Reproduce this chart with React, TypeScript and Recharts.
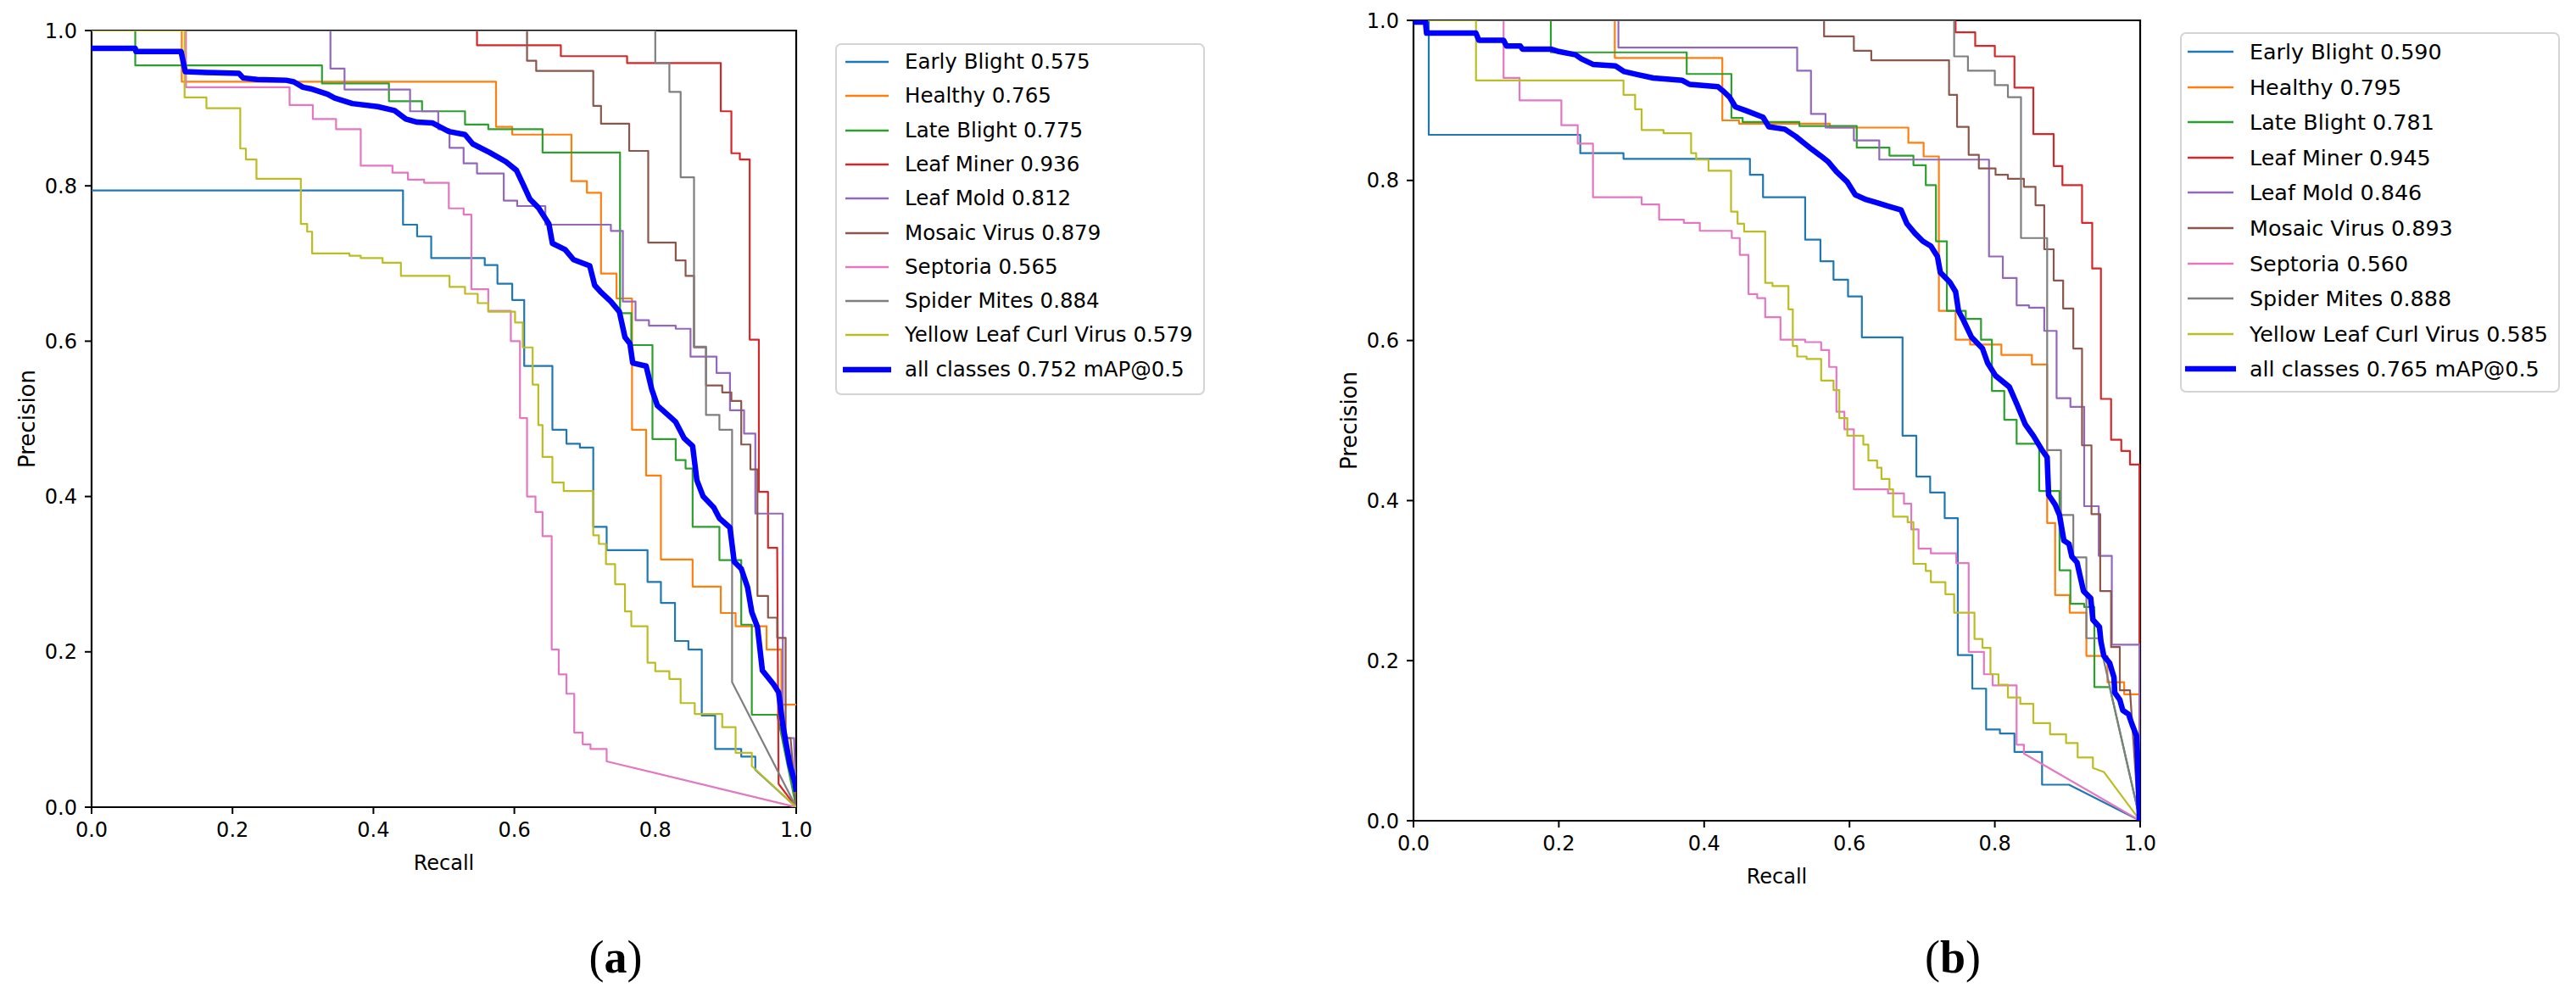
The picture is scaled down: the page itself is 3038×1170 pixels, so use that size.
import React from 'react';
import { LineChart, Line, XAxis, YAxis, ReferenceArea, Label } from 'recharts';

type Step = [number, number];

// ---------- labels / ticks ----------
const classNames = ['Early Blight', 'Healthy', 'Late Blight', 'Leaf Miner', 'Leaf Mold', 'Mosaic Virus', 'Septoria', 'Spider Mites', 'Yellow Leaf Curl Virus'];
const classColors = ['#1f77b4', '#ff7f0e', '#2ca02c', '#d62728', '#9467bd', '#8c564b', '#e377c2', '#7f7f7f', '#bcbd22'];
const allColor = '#0000ff';
const apA = [0.575, 0.765, 0.775, 0.936, 0.812, 0.879, 0.565, 0.884, 0.579];
const apB = [0.590, 0.795, 0.781, 0.945, 0.846, 0.893, 0.560, 0.888, 0.585];
const mapA = 0.752;
const mapB = 0.765;
const axisTicks = [0, 0.2, 0.4, 0.6, 0.8, 1.0];

// ---------- panel (a) : step curves [recall where level starts, precision] ----------
const earlyBlightA: Step[] = [[0, 0.794], [0.442, 0.75], [0.462, 0.735], [0.482, 0.707], [0.558, 0.698], [0.576, 0.674], [0.597, 0.653], [0.614, 0.568], [0.654, 0.486], [0.674, 0.468], [0.693, 0.463], [0.712, 0.361], [0.731, 0.331], [0.789, 0.29], [0.808, 0.263], [0.828, 0.214], [0.847, 0.203], [0.866, 0.118], [0.885, 0.075], [0.922, 0.065], [0.942, 0.048]];
const earlyBlightATail: Step[] = [[1, 0]];
const healthyA: Step[] = [[0, 1], [0.128, 0.934], [0.574, 0.876], [0.597, 0.866], [0.681, 0.806], [0.703, 0.791], [0.723, 0.687], [0.745, 0.655], [0.767, 0.486], [0.787, 0.427], [0.808, 0.319], [0.853, 0.284], [0.893, 0.25], [0.914, 0.233], [0.958, 0.203], [0.979, 0.132]];
const healthyATail: Step[] = [[1, 0.132]];
const lateBlightA: Step[] = [[0, 1], [0.062, 0.955], [0.327, 0.932], [0.422, 0.909], [0.469, 0.896], [0.53, 0.879], [0.563, 0.873], [0.64, 0.843], [0.75, 0.636], [0.766, 0.595], [0.796, 0.474], [0.829, 0.447], [0.843, 0.436], [0.853, 0.361], [0.891, 0.318], [0.922, 0.235], [0.937, 0.119]];
const lateBlightATail: Step[] = [[0.973, 0.119], [1, 0]];
const leafMinerA: Step[] = [[0, 1], [0.547, 0.981], [0.666, 0.967], [0.76, 0.958], [0.893, 0.896], [0.908, 0.842], [0.92, 0.834], [0.934, 0.602], [0.947, 0.406], [0.96, 0.334]];
const leafMinerATail: Step[] = [[0.973, 0.334], [0.975, 0.03], [1, 0]];
const leafMoldA: Step[] = [[0, 1], [0.339, 0.951], [0.359, 0.924], [0.452, 0.896], [0.492, 0.873], [0.508, 0.849], [0.528, 0.829], [0.547, 0.816], [0.585, 0.781], [0.604, 0.774], [0.644, 0.75], [0.737, 0.742], [0.754, 0.651], [0.772, 0.627], [0.791, 0.62], [0.829, 0.616], [0.85, 0.58], [0.887, 0.559], [0.906, 0.511], [0.926, 0.481], [0.942, 0.378], [0.981, 0.089]];
const leafMoldATail: Step[] = [[0.997, 0.089], [1, 0]];
const mosaicA: Step[] = [[0, 1], [0.618, 0.961], [0.631, 0.948], [0.712, 0.903], [0.723, 0.88], [0.763, 0.845], [0.79, 0.727], [0.829, 0.704], [0.843, 0.684], [0.855, 0.592], [0.872, 0.543], [0.895, 0.534], [0.908, 0.523], [0.922, 0.467], [0.935, 0.435], [0.945, 0.272], [0.96, 0.244], [0.973, 0.218], [0.985, 0.089]];
const mosaicATail: Step[] = [[0.992, 0.089], [1, 0]];
const septoriaA: Step[] = [[0, 1], [0.134, 0.927], [0.281, 0.904], [0.314, 0.886], [0.347, 0.873], [0.382, 0.826], [0.427, 0.817], [0.449, 0.808], [0.472, 0.804], [0.507, 0.771], [0.528, 0.763], [0.539, 0.667], [0.563, 0.639], [0.595, 0.6], [0.608, 0.501], [0.618, 0.4], [0.63, 0.38], [0.64, 0.349], [0.653, 0.203], [0.663, 0.171], [0.674, 0.146], [0.685, 0.096], [0.697, 0.081], [0.708, 0.075], [0.731, 0.059]];
const septoriaATail: Step[] = [[1, 0]];
const spiderA: Step[] = [[0, 1], [0.8, 0.958], [0.82, 0.921], [0.836, 0.811], [0.855, 0.593], [0.872, 0.505], [0.891, 0.486], [0.909, 0.161]];
const spiderATail: Step[] = [[1, 0]];
const ylcvA: Step[] = [[0, 1], [0.132, 0.914], [0.163, 0.9], [0.211, 0.848], [0.219, 0.834], [0.234, 0.809], [0.297, 0.751], [0.306, 0.741], [0.313, 0.713], [0.366, 0.71], [0.382, 0.707], [0.413, 0.701], [0.439, 0.684], [0.508, 0.67], [0.53, 0.661], [0.548, 0.649], [0.563, 0.638], [0.601, 0.624], [0.612, 0.592], [0.626, 0.544], [0.634, 0.492], [0.64, 0.451], [0.654, 0.418], [0.67, 0.407], [0.712, 0.35], [0.72, 0.339], [0.73, 0.313], [0.743, 0.287], [0.757, 0.252], [0.766, 0.233], [0.789, 0.186], [0.8, 0.175], [0.82, 0.165], [0.836, 0.134], [0.856, 0.12], [0.895, 0.103], [0.914, 0.07], [0.937, 0.053]];
const ylcvATail: Step[] = [[1, 0]];
// all classes (a): polyline [recall, precision]
const allA: Step[] = [[0, 0.977], [0.062, 0.977], [0.063, 0.973], [0.127, 0.973], [0.133, 0.947], [0.162, 0.946], [0.209, 0.945], [0.215, 0.939], [0.235, 0.937], [0.276, 0.936], [0.287, 0.934], [0.3, 0.927], [0.311, 0.925], [0.335, 0.918], [0.345, 0.913], [0.37, 0.906], [0.406, 0.902], [0.43, 0.897], [0.446, 0.886], [0.462, 0.882], [0.484, 0.881], [0.507, 0.87], [0.53, 0.866], [0.541, 0.854], [0.565, 0.843], [0.588, 0.831], [0.603, 0.82], [0.613, 0.801], [0.622, 0.783], [0.634, 0.772], [0.649, 0.751], [0.654, 0.726], [0.672, 0.718], [0.684, 0.705], [0.707, 0.697], [0.714, 0.672], [0.722, 0.664], [0.737, 0.651], [0.749, 0.638], [0.757, 0.605], [0.764, 0.597], [0.768, 0.572], [0.787, 0.568], [0.795, 0.538], [0.803, 0.517], [0.818, 0.505], [0.829, 0.496], [0.841, 0.475], [0.853, 0.465], [0.859, 0.421], [0.868, 0.4], [0.883, 0.386], [0.891, 0.372], [0.906, 0.36], [0.912, 0.316], [0.922, 0.307], [0.931, 0.283], [0.937, 0.251], [0.945, 0.232], [0.952, 0.176], [0.968, 0.158], [0.975, 0.148], [0.981, 0.106], [0.991, 0.055], [0.998, 0.032], [1, 0.02]];

// ---------- panel (b) ----------
const earlyBlightB: Step[] = [[0, 1], [0.021, 0.857], [0.2295, 0.834], [0.289, 0.827], [0.463, 0.807], [0.481, 0.779], [0.539, 0.726], [0.56, 0.699], [0.578, 0.676], [0.598, 0.655], [0.617, 0.604], [0.673, 0.481], [0.692, 0.43], [0.711, 0.41], [0.731, 0.378], [0.749, 0.207], [0.769, 0.165], [0.788, 0.114], [0.807, 0.109], [0.827, 0.086], [0.865, 0.045]];
const earlyBlightBTail: Step[] = [[0.902, 0.045], [1, 0]];
const healthyB: Step[] = [[0, 1], [0.277, 0.953], [0.425, 0.875], [0.448, 0.871], [0.573, 0.866], [0.681, 0.847], [0.702, 0.83], [0.723, 0.637], [0.746, 0.601], [0.766, 0.595], [0.809, 0.582], [0.851, 0.57], [0.872, 0.372], [0.883, 0.282], [0.903, 0.26], [0.926, 0.206], [0.955, 0.173], [0.978, 0.158]];
const healthyBTail: Step[] = [[1, 0.158]];
const lateBlightB: Step[] = [[0, 1], [0.189, 0.96], [0.376, 0.933], [0.4375, 0.878], [0.453, 0.873], [0.531, 0.868], [0.61, 0.841], [0.655, 0.831], [0.688, 0.819], [0.705, 0.794], [0.719, 0.724], [0.734, 0.637], [0.76, 0.627], [0.781, 0.601], [0.796, 0.537], [0.813, 0.501], [0.83, 0.471], [0.861, 0.412], [0.889, 0.313], [0.904, 0.271], [0.923, 0.267], [0.937, 0.167]];
const lateBlightBTail: Step[] = [[0.958, 0.167], [1, 0]];
const leafMinerB: Step[] = [[0, 1], [0.746, 0.985], [0.773, 0.968], [0.8, 0.955], [0.827, 0.916], [0.853, 0.858], [0.881, 0.818], [0.893, 0.794], [0.92, 0.747], [0.934, 0.69], [0.946, 0.527], [0.96, 0.476], [0.974, 0.462], [0.986, 0.445]];
const leafMinerBTail: Step[] = [[0.999, 0.445], [0.999, 0]];
const leafMoldB: Step[] = [[0, 1], [0.282, 0.966], [0.528, 0.937], [0.547, 0.883], [0.567, 0.866], [0.606, 0.85], [0.641, 0.826], [0.792, 0.705], [0.811, 0.678], [0.83, 0.644], [0.847, 0.641], [0.868, 0.612], [0.885, 0.528], [0.904, 0.517], [0.923, 0.393], [0.943, 0.331], [0.961, 0.22]];
const leafMoldBTail: Step[] = [[0.999, 0.22], [0.999, 0]];
const mosaicB: Step[] = [[0, 1], [0.565, 0.98], [0.606, 0.962], [0.63, 0.95], [0.737, 0.907], [0.748, 0.867], [0.764, 0.832], [0.778, 0.815], [0.801, 0.807], [0.818, 0.802], [0.84, 0.792], [0.856, 0.769], [0.868, 0.714], [0.881, 0.675], [0.894, 0.64], [0.908, 0.59], [0.92, 0.469], [0.933, 0.383], [0.945, 0.287], [0.96, 0.217], [0.972, 0.163]];
const mosaicBTail: Step[] = [[0.986, 0.163], [0.998, 0]];
const septoriaB: Step[] = [[0, 1], [0.124, 0.928], [0.146, 0.9], [0.2035, 0.869], [0.226, 0.846], [0.247, 0.779], [0.314, 0.77], [0.338, 0.751], [0.372, 0.747], [0.394, 0.737], [0.438, 0.728], [0.449, 0.707], [0.461, 0.658], [0.473, 0.653], [0.484, 0.629], [0.505, 0.601], [0.539, 0.598], [0.561, 0.588], [0.572, 0.567], [0.582, 0.511], [0.593, 0.489], [0.606, 0.414], [0.653, 0.409], [0.675, 0.396], [0.685, 0.364], [0.695, 0.34], [0.712, 0.334], [0.747, 0.322], [0.764, 0.211], [0.785, 0.183], [0.797, 0.169], [0.83, 0.095], [0.84, 0.084]];
const septoriaBTail: Step[] = [[1, 0]];
const spiderB: Step[] = [[0, 1], [0.744, 0.955], [0.763, 0.937], [0.8, 0.919], [0.818, 0.904], [0.836, 0.728], [0.872, 0.463], [0.891, 0.382], [0.908, 0.329], [0.926, 0.228]];
const spiderBTail: Step[] = [[0.943, 0.228], [1, 0]];
const ylcvB: Step[] = [[0, 1], [0.086, 0.925], [0.289, 0.907], [0.305, 0.889], [0.314, 0.863], [0.344, 0.859], [0.382, 0.834], [0.389, 0.826], [0.406, 0.812], [0.437, 0.761], [0.446, 0.746], [0.455, 0.736], [0.484, 0.672], [0.494, 0.668], [0.516, 0.639], [0.522, 0.593], [0.528, 0.58], [0.541, 0.577], [0.561, 0.55], [0.578, 0.538], [0.586, 0.503], [0.597, 0.481], [0.619, 0.47], [0.626, 0.45], [0.638, 0.441], [0.644, 0.427], [0.655, 0.414], [0.66, 0.38], [0.68, 0.373], [0.688, 0.321], [0.705, 0.312], [0.712, 0.298], [0.732, 0.283], [0.744, 0.26], [0.772, 0.227], [0.783, 0.216], [0.794, 0.183], [0.805, 0.17], [0.818, 0.154], [0.835, 0.146], [0.853, 0.122], [0.876, 0.108], [0.898, 0.097], [0.914, 0.079], [0.935, 0.066]];
const ylcvBTail: Step[] = [[0.95, 0.061], [1, 0]];
const allB: Step[] = [[0, 0.998], [0.0165, 0.998], [0.018, 0.984], [0.086, 0.984], [0.09, 0.975], [0.124, 0.975], [0.128, 0.968], [0.147, 0.968], [0.15, 0.964], [0.189, 0.964], [0.2, 0.961], [0.223, 0.957], [0.231, 0.952], [0.247, 0.945], [0.278, 0.943], [0.29, 0.936], [0.309, 0.932], [0.33, 0.928], [0.37, 0.925], [0.38, 0.92], [0.419, 0.917], [0.427, 0.911], [0.435, 0.904], [0.443, 0.892], [0.458, 0.887], [0.481, 0.879], [0.489, 0.867], [0.511, 0.864], [0.526, 0.855], [0.537, 0.847], [0.548, 0.839], [0.56, 0.831], [0.571, 0.823], [0.582, 0.811], [0.597, 0.798], [0.608, 0.782], [0.623, 0.776], [0.638, 0.772], [0.653, 0.768], [0.671, 0.763], [0.679, 0.746], [0.69, 0.734], [0.701, 0.724], [0.712, 0.718], [0.721, 0.705], [0.725, 0.685], [0.738, 0.673], [0.746, 0.661], [0.75, 0.637], [0.757, 0.625], [0.768, 0.604], [0.783, 0.59], [0.79, 0.572], [0.801, 0.556], [0.82, 0.542], [0.831, 0.519], [0.842, 0.495], [0.853, 0.481], [0.865, 0.463], [0.872, 0.454], [0.874, 0.407], [0.883, 0.395], [0.889, 0.382], [0.895, 0.35], [0.902, 0.346], [0.906, 0.33], [0.913, 0.323], [0.922, 0.287], [0.932, 0.278], [0.935, 0.251], [0.944, 0.242], [0.946, 0.224], [0.95, 0.206], [0.958, 0.197], [0.964, 0.179], [0.965, 0.16], [0.972, 0.151], [0.976, 0.138], [0.984, 0.133], [0.989, 0.12], [0.995, 0.106], [0.996, 0.088], [0.999, 0]];

// ---------- builders ----------
type Pt = { r: number; p: number };
function stairs(steps: Step[], tail: Step[]): Pt[] {
  const out: Pt[] = [];
  steps.forEach(([r, p], i) => {
    out.push({ r, p });
    const next = steps[i + 1];
    if (next) out.push({ r: next[0], p });
  });
  tail.forEach(([r, p]) => out.push({ r, p }));
  return out;
}
const poly = (pts: Step[]): Pt[] => pts.map(([r, p]) => ({ r, p }));

const seriesA: Pt[][] = [
  stairs(earlyBlightA, earlyBlightATail), stairs(healthyA, healthyATail), stairs(lateBlightA, lateBlightATail),
  stairs(leafMinerA, leafMinerATail), stairs(leafMoldA, leafMoldATail), stairs(mosaicA, mosaicATail),
  stairs(septoriaA, septoriaATail), stairs(spiderA, spiderATail), stairs(ylcvA, ylcvATail),
];
const seriesB: Pt[][] = [
  stairs(earlyBlightB, earlyBlightBTail), stairs(healthyB, healthyBTail), stairs(lateBlightB, lateBlightBTail),
  stairs(leafMinerB, leafMinerBTail), stairs(leafMoldB, leafMoldBTail), stairs(mosaicB, mosaicBTail),
  stairs(septoriaB, septoriaBTail), stairs(spiderB, spiderBTail), stairs(ylcvB, ylcvBTail),
];

const FONT = '"DejaVu Sans", sans-serif';

type PanelCfg = {
  left: number; width: number;
  margin: { top: number; right: number; bottom: number; left: number };
  series: Pt[][]; all: Pt[];
  plotLeft: number; plotTop: number; plotW: number; plotH: number;
};

function Panel({ cfg }: { cfg: PanelCfg }) {
  const { plotLeft, plotTop, plotW, plotH } = cfg;
  return (
    <div style={{ position: 'absolute', left: cfg.left, top: 0, width: cfg.width, height: 1170 }}>
      <LineChart width={cfg.width} height={1170} margin={cfg.margin}>
        <XAxis
          dataKey="r" type="number" domain={[0, 1]} ticks={axisTicks} allowDataOverflow
          tickFormatter={(v: number) => v.toFixed(1)} height={100} axisLine={false}
          tickSize={8} tickMargin={10} tickLine={{ stroke: '#000', strokeWidth: 2 }}
          tick={{ fill: '#000', fontSize: 24, fontFamily: FONT }} interval={0}
        >
          <Label content={() => (
            <text x={plotLeft + plotW / 2} y={plotTop + plotH + 74} textAnchor="middle" fontSize={24} fontFamily={FONT} fill="#000">Recall</text>
          )} />
        </XAxis>
        <YAxis
          type="number" domain={[0, 1]} ticks={axisTicks} allowDataOverflow
          tickFormatter={(v: number) => v.toFixed(1)} width={100} axisLine={false}
          tickSize={8} tickMargin={9} tickLine={{ stroke: '#000', strokeWidth: 2 }}
          tick={{ fill: '#000', fontSize: 24, fontFamily: FONT }} interval={0}
        >
          <Label content={() => {
            const cx = plotLeft - 76;
            const cy = plotTop + plotH / 2;
            return (
              <text x={cx} y={cy} transform={`rotate(-90 ${cx} ${cy})`} textAnchor="middle" dominantBaseline="central" fontSize={26} fontFamily={FONT} fill="#000">Precision</text>
            );
          }} />
        </YAxis>
        {cfg.series.map((d, i) => (
          <Line key={classNames[i]} data={d} dataKey="p" type="linear" stroke={classColors[i]} strokeWidth={2.2}
            dot={false} activeDot={false} isAnimationActive={false} strokeLinejoin="round" />
        ))}
        <Line data={cfg.all} dataKey="p" type="linear" stroke={allColor} strokeWidth={6.5}
          dot={false} activeDot={false} isAnimationActive={false} strokeLinejoin="round" />
        <ReferenceArea x1={0} x2={1} y1={0} y2={1} fill="none" fillOpacity={0} stroke="#000" strokeWidth={2.2} ifOverflow="visible" />
      </LineChart>
    </div>
  );
}

function LegendBox({ left, top, width, height, aps, map, fontSize, firstY, gap, lineX1, lineX2, textX }:
  { left: number; top: number; width: number; height: number; aps: number[]; map: number; fontSize: number; firstY: number; gap: number; lineX1: number; lineX2: number; textX: number }) {
  const rows = classNames.map((n, i) => ({ label: `${n} ${aps[i].toFixed(3)}`, color: classColors[i], w: 2.4 }));
  rows.push({ label: `all classes ${map.toFixed(3)} mAP@0.5`, color: allColor, w: 6.5 });
  return (
    <div style={{ position: 'absolute', left, top, width, height, boxSizing: 'border-box', border: '2px solid #d4d4d4', borderRadius: 7, background: '#fff', fontFamily: FONT, fontSize, color: '#000' }}>
      {rows.map((row, i) => (
        <div key={row.label} style={{ position: 'absolute', left: 0, top: firstY + i * gap - 20, height: 40, width: width - 4, display: 'flex', alignItems: 'center' }}>
          <svg width={lineX2 + 4} height={40} style={{ position: 'absolute', left: 0, top: 0 }}>
            <line x1={lineX1 - (row.w > 3 ? 3 : 0)} x2={lineX2 + (row.w > 3 ? 3 : 0)} y1={20} y2={20} stroke={row.color} strokeWidth={row.w} />
          </svg>
          <span style={{ position: 'absolute', left: textX, top: 0, lineHeight: '40px', whiteSpace: 'nowrap' }}>{row.label}</span>
        </div>
      ))}
    </div>
  );
}

const panelA: PanelCfg = {
  left: 0, width: 1500, margin: { top: 36, right: 561, bottom: 118, left: 8 },
  series: seriesA, all: poly(allA), plotLeft: 108, plotTop: 36, plotW: 831, plotH: 916,
};
const panelB: PanelCfg = {
  left: 1540, width: 1498, margin: { top: 24, right: 514, bottom: 102, left: 27 },
  series: seriesB, all: poly(allB), plotLeft: 127, plotTop: 24, plotW: 857, plotH: 944,
};

export default function App() {
  return (
    <div style={{ position: 'absolute', left: 0, top: 0, width: 3038, height: 1170, background: '#fff', overflow: 'hidden' }}>
      <Panel cfg={panelA} />
      <Panel cfg={panelB} />
      <LegendBox left={985} top={51} width={436} height={415} aps={apA} map={mapA} fontSize={24.5} firstY={20} gap={40.3} lineX1={10} lineX2={61} textX={80} />
      <LegendBox left={2571} top={38} width={448} height={425} aps={apB} map={mapB} fontSize={25.4} firstY={21} gap={41.6} lineX1={7} lineX2={61} textX={80} />
      <div style={{ position: 'absolute', left: 626, top: 1094, width: 200, textAlign: 'center', fontFamily: '"Liberation Serif", serif', fontSize: 54, lineHeight: '70px', color: '#000' }}>
        (<span style={{ fontWeight: 'bold' }}>a</span>)
      </div>
      <div style={{ position: 'absolute', left: 2203, top: 1094, width: 200, textAlign: 'center', fontFamily: '"Liberation Serif", serif', fontSize: 54, lineHeight: '70px', color: '#000' }}>
        (<span style={{ fontWeight: 'bold' }}>b</span>)
      </div>
    </div>
  );
}
